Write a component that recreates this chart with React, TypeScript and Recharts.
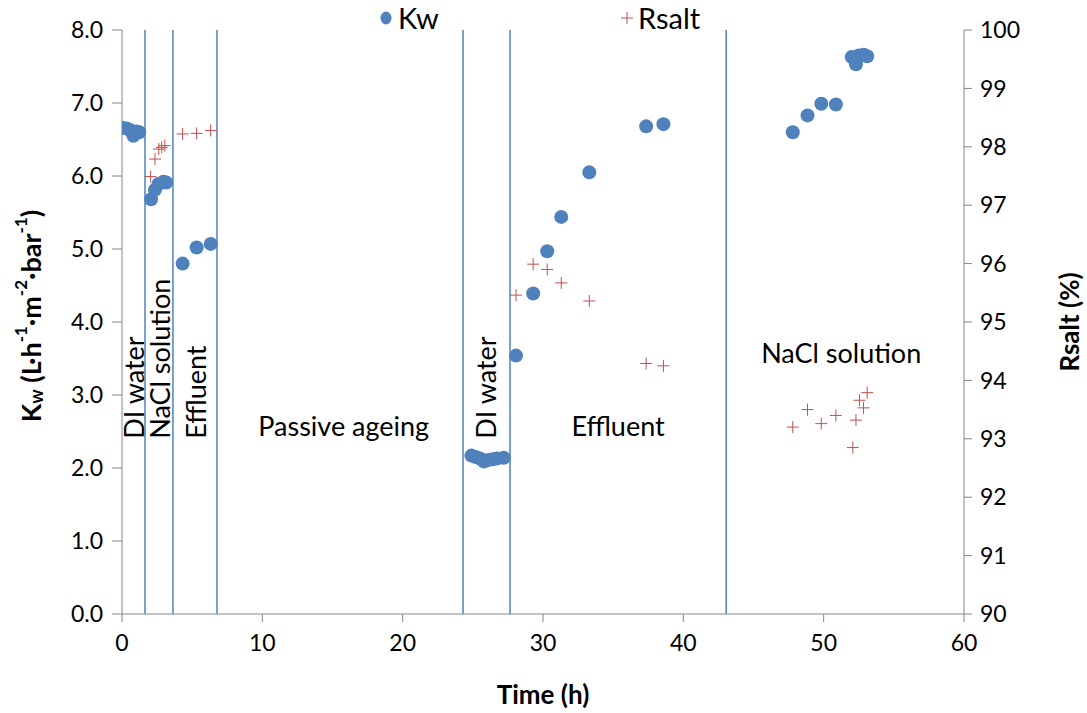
import React from "react";
import {
  ScatterChart,
  Scatter,
  XAxis,
  YAxis,
  ReferenceLine,
  ReferenceDot,
  Legend,
} from "recharts";

// ---- data ----
const kwTime = [
  0.0, 0.33, 0.57, 0.81, 1.05, 1.23,
  2.07, 2.35, 2.6, 2.95, 3.15,
  4.32, 5.32, 6.32,
  24.9, 25.2, 25.5, 25.8, 26.1, 26.4, 26.7, 27.2,
  28.08, 29.3, 30.3, 31.3, 33.3,
  37.35, 38.58,
  47.8, 48.85, 49.83, 50.87,
  52.0, 52.3, 52.5, 52.85, 53.1,
];
const kwValue = [
  6.66, 6.65, 6.63, 6.55, 6.61, 6.6,
  5.68, 5.81, 5.89, 5.92, 5.91,
  4.8, 5.02, 5.07,
  2.17, 2.15, 2.13, 2.09, 2.11, 2.12, 2.13, 2.14,
  3.54, 4.39, 4.97, 5.44, 6.05,
  6.68, 6.71,
  6.6, 6.83, 6.99, 6.98,
  7.63, 7.53, 7.65, 7.66, 7.64,
];
const rsaltTime = [
  2.04, 2.35, 2.62, 2.83, 3.05,
  4.32, 5.32, 6.32,
  28.08, 29.3, 30.3, 31.3, 33.3,
  37.35, 38.58,
  47.8, 48.85, 49.83, 50.87, 52.08, 52.3, 52.55, 52.84, 53.1,
];
const rsaltValue = [
  97.49, 97.79, 97.96, 97.99, 98.02,
  98.22, 98.23, 98.28,
  95.46, 95.99, 95.9, 95.67, 95.36,
  94.29, 94.25,
  93.2, 93.5, 93.26, 93.4, 92.85, 93.32, 93.66, 93.53, 93.79,
];
const phaseBoundaries = [1.64, 3.63, 6.77, 24.3, 27.65, 43.05];
const annotations = [
  { text: "DI water", t: 0.85, kw: 2.4, vertical: true },
  { text: "NaCl solution", t: 2.64, kw: 2.4, vertical: true },
  { text: "Effluent", t: 5.27, kw: 2.4, vertical: true },
  { text: "Passive ageing", t: 15.8, kw: 2.58, vertical: false },
  { text: "DI water", t: 25.87, kw: 2.4, vertical: true },
  { text: "Effluent", t: 35.35, kw: 2.58, vertical: false },
  { text: "NaCl solution", t: 51.25, kw: 3.58, vertical: false },
];
const xTicks = [0, 10, 20, 30, 40, 50, 60];
const kwTicks = [0, 1, 2, 3, 4, 5, 6, 7, 8];
const rsaltTicks = [90, 91, 92, 93, 94, 95, 96, 97, 98, 99, 100];

const kwData = kwTime.map((t, i) => ({ t, kw: kwValue[i] }));
const rsaltData = rsaltTime.map((t, i) => ({ t, r: rsaltValue[i] }));

const FONT = "Lato, 'Open Sans', sans-serif";
const BLUE = "#4f81bd";
const RED = "#c0504d";
const AXIS = "#868686";
const ANN_SIZE = 27;
const TICK_SIZE = 23;

const PlusShape = (props: any) => {
  const { cx, cy } = props;
  const s = 6;
  return (
    <g>
      <line x1={cx - s} x2={cx + s} y1={cy} y2={cy} stroke={RED} strokeWidth={1} />
      <line x1={cx} x2={cx} y1={cy - s} y2={cy + s} stroke={RED} strokeWidth={1} />
    </g>
  );
};

const DotShape = (props: any) => {
  const { cx, cy } = props;
  return <circle cx={cx} cy={cy} r={7} fill={BLUE} />;
};

const makeAnnot = (text: string, vertical: boolean) => (props: any) => {
  const vb = props.viewBox || {};
  const x = vb.x + (vb.width || 0) / 2;
  const y = vb.y + (vb.height || 0) / 2;
  if (vertical) {
    return (
      <text
        x={x}
        y={y}
        transform={`rotate(-90, ${x}, ${y})`}
        textAnchor="start"
        dominantBaseline="central"
        fontFamily={FONT}
        fontSize={ANN_SIZE}
        fill="#000"
      >
        {text}
      </text>
    );
  }
  return (
    <text
      x={x}
      y={y}
      textAnchor="middle"
      dominantBaseline="central"
      fontFamily={FONT}
      fontSize={ANN_SIZE}
      fill="#000"
    >
      {text}
    </text>
  );
};

const KwTitle = (props: any) => {
  const vb = props.viewBox || { x: 0, y: 0, width: 0, height: 0 };
  const x = 30;
  const y = vb.y + vb.height / 2 - 6;
  return (
    <text
      x={x}
      y={y}
      transform={`rotate(-90, ${x}, ${y})`}
      textAnchor="middle"
      dominantBaseline="central"
      fontFamily={FONT}
      fontSize={27}
      fontWeight="bold"
      fill="#000"
    >
      <tspan>K</tspan>
      <tspan fontSize={18} dy={6}>w</tspan>
      <tspan dy={-6}> (L·h</tspan>
      <tspan fontSize={17} dy={-10}>-1</tspan>
      <tspan dy={10}>·m</tspan>
      <tspan fontSize={17} dy={-10}>-2</tspan>
      <tspan dy={10}>·bar</tspan>
      <tspan fontSize={17} dy={-10}>-1</tspan>
      <tspan dy={10}>)</tspan>
    </text>
  );
};

const RTitle = (props: any) => {
  const vb = props.viewBox || { x: 0, y: 0, width: 0, height: 0 };
  const x = 1069;
  const y = vb.y + vb.height / 2;
  return (
    <text
      x={x}
      y={y}
      transform={`rotate(-90, ${x}, ${y})`}
      textAnchor="middle"
      dominantBaseline="central"
      fontFamily={FONT}
      fontSize={26}
      fontWeight="bold"
      fill="#000"
    >
      Rsalt (%)
    </text>
  );
};

const LegendContent = () => (
  <div style={{ position: "relative", width: 1087, height: 30, fontFamily: FONT, fontSize: 29, lineHeight: "30px" }}>
    <div style={{ position: "absolute", left: 379, top: 3, display: "flex", alignItems: "center" }}>
      <svg width={14} height={16} style={{ marginRight: 5 }}>
        <ellipse cx={7} cy={8} rx={5.5} ry={6.5} fill={BLUE} />
      </svg>
      <span>Kw</span>
    </div>
    <div style={{ position: "absolute", left: 620, top: 3, display: "flex", alignItems: "center" }}>
      <svg width={14} height={14} style={{ marginRight: 4 }}>
        <line x1={1} x2={13} y1={7} y2={7} stroke={RED} strokeWidth={1} />
        <line x1={7} x2={7} y1={1} y2={13} stroke={RED} strokeWidth={1} />
      </svg>
      <span>Rsalt</span>
    </div>
  </div>
);

export default function App() {
  return (
    <div style={{ position: "fixed", left: 0, top: 0, background: "#fff" }}>
      <ScatterChart
        width={1087}
        height={713}
        margin={{ top: 0, right: 0, bottom: 0, left: 0 }}
      >
        <XAxis
          type="number"
          dataKey="t"
          domain={[0, 60]}
          ticks={xTicks}
          allowDataOverflow
          stroke={AXIS}
          tickSize={8}
          tickMargin={13}
          height={99}
          tick={{ fill: "#000", fontSize: TICK_SIZE, fontFamily: FONT }}
          label={{
            value: "Time (h)",
            position: "insideBottom",
            offset: 9,
            fill: "#000",
            fontSize: 26,
            fontWeight: "bold",
            fontFamily: FONT,
          }}
        />
        <YAxis
          yAxisId="left"
          type="number"
          dataKey="kw"
          domain={[0, 8]}
          ticks={kwTicks}
          allowDataOverflow
          width={122}
          stroke={AXIS}
          tickSize={10}
          tickMargin={9}
          tickFormatter={(v: number) => v.toFixed(1)}
          tick={{ fill: "#000", fontSize: TICK_SIZE, fontFamily: FONT }}
          label={{ content: KwTitle }}
        />
        <YAxis
          yAxisId="right"
          orientation="right"
          type="number"
          dataKey="r"
          domain={[90, 100]}
          ticks={rsaltTicks}
          allowDataOverflow
          width={123}
          stroke={AXIS}
          tickSize={8}
          tickMargin={8}
          tick={{ fill: "#000", fontSize: TICK_SIZE, fontFamily: FONT }}
          label={{ content: RTitle }}
        />
        <Legend
          verticalAlign="top"
          content={LegendContent}
          wrapperStyle={{ top: 0, left: 0, width: 1087, height: 30 }}
        />
        {phaseBoundaries.map((x, i) => (
          <ReferenceLine
            key={`pb-${i}`}
            x={x}
            yAxisId="left"
            stroke={BLUE}
            strokeWidth={1.5}
          />
        ))}
        {annotations.map((a, i) => (
          <ReferenceDot
            key={`an-${i}`}
            x={a.t}
            y={a.kw}
            yAxisId="left"
            r={0}
            fill="none"
            stroke="none"
            label={{ content: makeAnnot(a.text, a.vertical) }}
          />
        ))}
        <Scatter
          name="Kw"
          data={kwData}
          yAxisId="left"
          dataKey="kw"
          fill={BLUE}
          shape={DotShape}
          isAnimationActive={false}
        />
        <Scatter
          name="Rsalt"
          data={rsaltData}
          yAxisId="right"
          dataKey="r"
          fill={RED}
          shape={PlusShape}
          isAnimationActive={false}
        />
      </ScatterChart>
    </div>
  );
}
